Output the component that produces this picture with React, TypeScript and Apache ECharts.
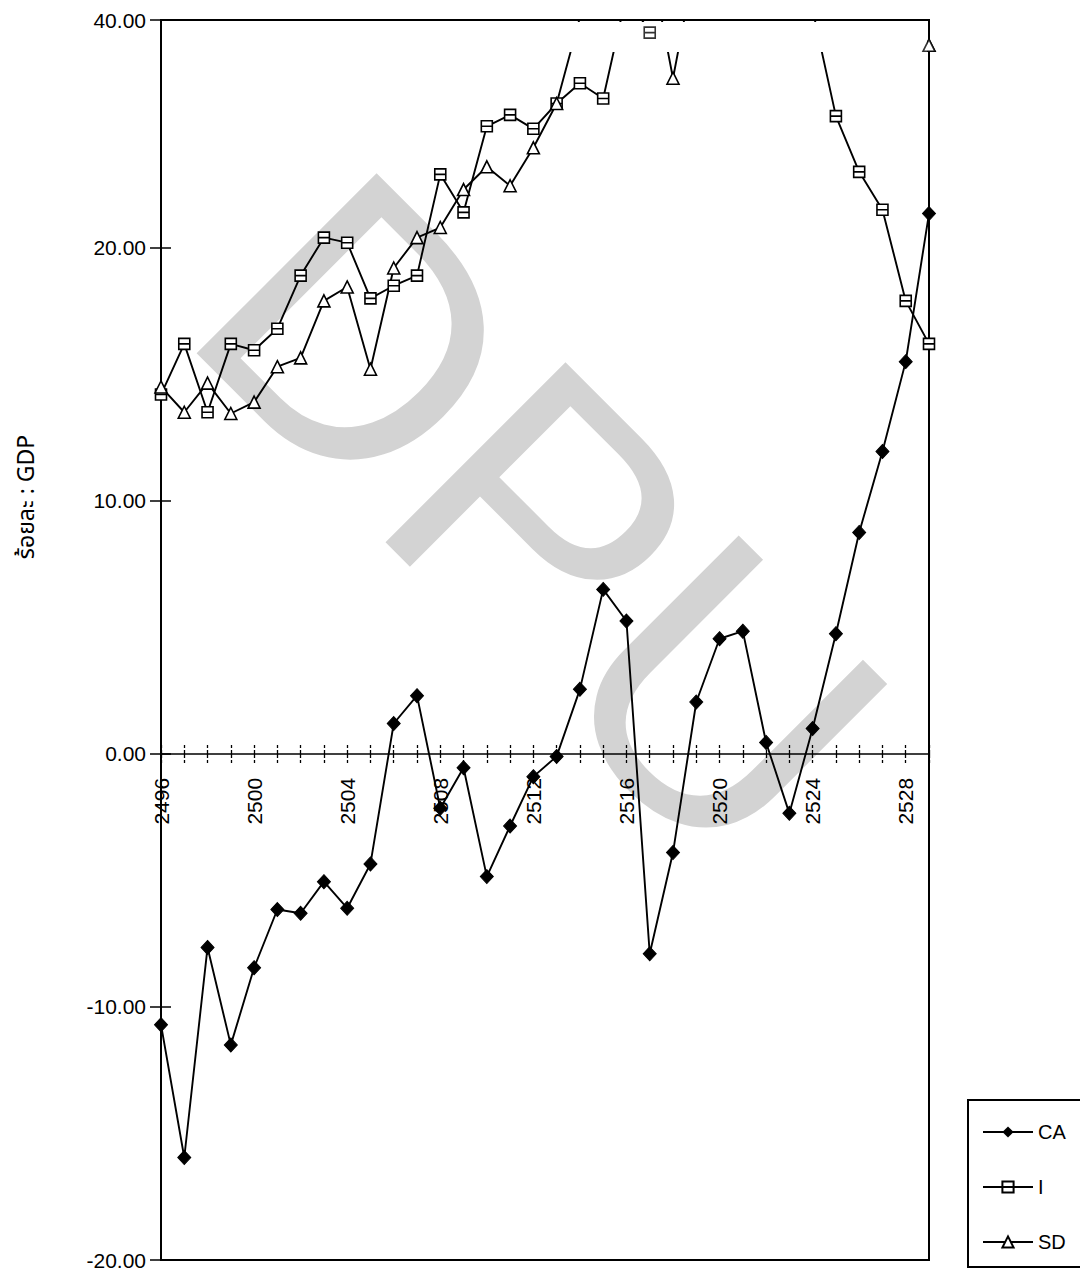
import { useEffect, useRef } from "react";
import * as echarts from "echarts";

// ---- data ----
const years = [
  "2496", "2497", "2498", "2499", "2500", "2501", "2502", "2503", "2504", "2505",
  "2506", "2507", "2508", "2509", "2510", "2511", "2512", "2513", "2514", "2515",
  "2516", "2517", "2518", "2519", "2520", "2521", "2522", "2523", "2524", "2525",
  "2526", "2527", "2528", "2529",
];

const caValues = [
  -10.7, -15.95, -7.65, -11.5, -8.45, -6.15, -6.3, -5.05, -6.1, -4.35,
  1.2, 2.3, -2.15, -0.55, -4.85, -2.85, -0.9, -0.1, 2.55, 6.5,
  5.25, -7.9, -3.9, 2.05, 4.55, 4.85, 0.45, -2.35, 1.0, 4.75,
  8.75, 11.95, 15.5, 21.35,
];

// values above the top of the frame are estimates from where the lines leave it; null = not readable
const iValues = [
  14.2, 16.2, 13.5, 16.2, 15.95, 16.8, 18.9, 20.4, 20.2, 18.0,
  18.5, 18.9, 22.9, 21.4, 24.8, 25.25, 24.7, 25.7, 26.5, 25.9,
  30.0, 28.5, null, null, null, null, null, null, 29.4, 25.2,
  23.0, 21.5, 17.9, 16.2,
];

const sdValues = [
  14.5, 13.5, 14.65, 13.45, 13.9, 15.3, 15.65, 17.9, 18.45, 15.2,
  19.2, 20.4, 20.8, 22.3, 23.2, 22.45, 23.95, 25.7, 29.1, null,
  null, 31.5, 26.7, 31.5, null, null, null, null, null, null,
  null, null, null, 28.0,
];

const seriesNames = ["CA", "I", "SD"];
const yMin = -20;
const yMax = 29;
const yTickValues = [-20, -10, 0, 10, 20, 29];
const yTopLabel = "40.00";
const yAxisTitle = "ร้อยละ : GDP";
const watermarkText = "DPU";
const bandLow = 27.8; // the copy lost everything between this value and the frame top

export default function App() {
  const ref = useRef<HTMLDivElement>(null);

  useEffect(() => {
    if (!ref.current) return;
    const chart = echarts.init(ref.current, null, { renderer: "svg" });
    const font = "'Liberation Sans', Arial, sans-serif";
    const squareSymbol = "path://M0,0L10,0L10,10L0,10Z M0,5L10,5";
    const lineStyle = { color: "#000", width: 1.9 };
    const hollow = { color: "#fff", borderColor: "#000", borderWidth: 1.6 };
    const inBand = (arr: (number | null)[]) =>
      arr.map((v) => (v != null && v > bandLow && v <= yMax ? v : "-"));
    const tickStyle = { color: "#000", width: 1.3, type: [4, 2] as any };

    const gridTop = 20;
    const gridBottom = 16;
    const gridHeight = 1276 - gridTop - gridBottom;
    // the category axis sits on the value 0 of the y scale
    const zeroOffset = -gridHeight * (0 - yMin) / (yMax - yMin);

    const option: any = {
      animation: false,
      backgroundColor: "#fff",
      grid: {
        left: 161,
        right: 151,
        top: gridTop,
        bottom: gridBottom,
        containLabel: false,
        outerBoundsMode: "none",
        show: true,
        borderColor: "#000",
        borderWidth: 2,
        backgroundColor: "transparent",
      },
      legend: {
        data: seriesNames,
        orient: "vertical",
        left: 982,
        top: 1122,
        padding: 0,
        itemWidth: 50,
        itemHeight: 14,
        itemGap: 35,
        selectedMode: false,
        textStyle: { fontSize: 20, color: "#000", fontFamily: font },
      },
      xAxis: [
        {
          type: "category",
          data: years,
          boundaryGap: false,
          position: "bottom",
          offset: zeroOffset,
          axisLine: { onZero: false, lineStyle: { color: "#000", width: 1.6 } },
          axisTick: { show: true, interval: 0, inside: false, length: 9, lineStyle: tickStyle },
          axisLabel: {
            interval: 3,
            rotate: 90,
            margin: 24,
            fontSize: 21,
            color: "#000",
            fontFamily: font,
          },
          splitLine: { show: false },
        },
        {
          type: "category",
          data: years,
          boundaryGap: false,
          position: "bottom",
          offset: zeroOffset,
          axisLine: { show: false, onZero: false },
          axisTick: { show: true, interval: 0, inside: true, length: 9, lineStyle: tickStyle },
          axisLabel: { show: false },
          splitLine: { show: false },
        },
      ],
      yAxis: [
        {
          type: "value",
          min: yMin,
          max: yMax,
          interval: 10,
          position: "left",
          axisLine: { show: true, onZero: false, lineStyle: { color: "#000", width: 2 } },
          axisTick: {
            show: true,
            length: 11,
            customValues: yTickValues,
            lineStyle: { color: "#000", width: 1.5 },
          },
          axisLabel: {
            customValues: yTickValues,
            margin: 15,
            fontSize: 21,
            color: "#000",
            fontFamily: font,
            formatter: (v: number) => (v === yMax ? yTopLabel : v.toFixed(2)),
          },
          splitLine: { show: false },
        },
        {
          type: "value",
          min: yMin,
          max: yMax,
          interval: 10,
          position: "left",
          axisLine: { show: false, onZero: false },
          axisTick: {
            show: true,
            inside: true,
            length: 10,
            customValues: yTickValues.filter((v) => v !== yMax && v !== yMin),
            lineStyle: { color: "#000", width: 1.5 },
          },
          axisLabel: { show: false },
          splitLine: { show: false },
        },
      ],
      series: [
        {
          name: "CA",
          type: "line",
          data: caValues,
          symbol: "diamond",
          symbolSize: [13, 14],
          showAllSymbol: true,
          lineStyle,
          itemStyle: { color: "#000", borderColor: "#000" },
        },
        {
          name: "I",
          type: "line",
          data: iValues,
          symbol: squareSymbol,
          symbolSize: 11,
          showAllSymbol: true,
          lineStyle,
          itemStyle: hollow,
        },
        {
          name: "SD",
          type: "line",
          data: sdValues,
          symbol: "triangle",
          symbolSize: 12,
          showAllSymbol: true,
          lineStyle,
          itemStyle: hollow,
        },
        {
          type: "scatter",
          data: inBand(iValues),
          symbol: squareSymbol,
          symbolSize: 11,
          itemStyle: hollow,
          z: 6,
          clip: false,
          silent: true,
        },
        {
          type: "scatter",
          data: inBand(sdValues),
          symbol: "triangle",
          symbolSize: 12,
          itemStyle: hollow,
          z: 6,
          clip: false,
          silent: true,
        },
      ],
      graphic: [
        {
          type: "text",
          x: 266,
          y: 241,
          rotation: -Math.PI / 4,
          z: -1,
          silent: true,
          style: {
            text: watermarkText,
            fontSize: 370,
            fontFamily: font,
            fill: "#d3d3d3",
            align: "left",
            verticalAlign: "middle",
            textAlign: "left",
            textVerticalAlign: "middle",
          },
        },
        {
          type: "rect",
          z: 4,
          silent: true,
          shape: { x: 163, y: 22, width: 764, height: 30 },
          style: { fill: "#fff" },
        },
        {
          type: "text",
          x: 27,
          y: 497,
          rotation: Math.PI / 2,
          silent: true,
          style: {
            text: yAxisTitle,
            fontSize: 23,
            fontFamily: "'Noto Sans Thai', 'Loma', 'Garuda', 'Noto Sans', sans-serif",
            fill: "#000",
            align: "center",
            verticalAlign: "middle",
            textAlign: "center",
            textVerticalAlign: "middle",
          },
        },
        {
          type: "rect",
          silent: true,
          shape: { x: 968, y: 1100, width: 150, height: 167 },
          style: { fill: "none", stroke: "#000", lineWidth: 2 },
        },
      ],
    };

    chart.setOption(option);
    return () => chart.dispose();
  }, []);

  return (
    <div
      ref={ref}
      style={{ position: "absolute", left: 0, top: 0, width: 1080, height: 1276 }}
    />
  );
}
